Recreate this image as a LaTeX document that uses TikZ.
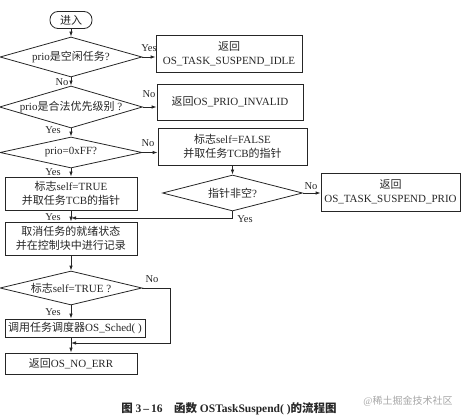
\documentclass[tikz,border=0pt]{standalone}
\usepackage{fontspec}
\setmainfont{Liberation Serif}
\newfontfamily\cjk{Noto Sans CJK SC}
\newcommand{\z}[1]{{\cjk #1}}
\usetikzlibrary{shapes.geometric,arrows.meta}
\begin{document}
\begin{tikzpicture}[x=1pt,y=-1pt,
  every node/.style={font=\fontsize{11}{14}\selectfont, text=black!85},
  line/.style={draw=black!85, line width=0.8pt},
  arr/.style={line, -{Latex[length=5pt,width=3.5pt]}},
  box/.style={line, rectangle, inner sep=0pt, align=center},
  dia/.style={line, diamond, inner sep=0pt, aspect=3.5},
  lab/.style={inner sep=0pt, font=\fontsize{10.5}{12}\selectfont}]
\useasboundingbox (0,0) rectangle (464,417);
% nodes
\node[box, rounded corners=8pt, minimum width=42pt, minimum height=17pt] (start) at (71,20) {\z{进入}};
\node[dia, minimum width=142pt, minimum height=40pt] (d1) at (71,57) {prio\z{是空闲任务}?};
\node[box, minimum width=146pt, minimum height=37pt] (b1) at (229,53.5) {\z{返回}\\OS\_TASK\_SUSPEND\_IDLE};
\node[dia, minimum width=142pt, minimum height=42pt] (d2) at (71,107) {prio\z{是合法优先级别} ?};
\node[box, minimum width=146pt, minimum height=36pt] (b2) at (230,102) {\z{返回}OS\_PRIO\_INVALID};
\node[dia, minimum width=142pt, minimum height=31pt] (d3) at (71,152.5) {prio=0xFF?};
\node[box, minimum width=149pt, minimum height=37pt] (b3) at (232.5,146.5) {\z{标志}self=FALSE\\\z{并取任务}TCB\z{的指针}};
\node[box, minimum width=132pt, minimum height=33pt] (b4) at (71,193.5) {\z{标志}self=TRUE\\\z{并取任务}TCB\z{的指针}};
\node[dia, minimum width=140pt, minimum height=36pt] (d4) at (232.5,193) {\z{指针非空}?};
\node[box, minimum width=139pt, minimum height=38pt] (b5) at (390.5,192) {\z{返回}\\OS\_TASK\_SUSPEND\_PRIO};
\node[box, minimum width=132pt, minimum height=33pt] (b6) at (71,238.5) {\z{取消任务的就绪状态}\\\z{并在控制块中进行记录}};
\node[dia, minimum width=142pt, minimum height=34pt] (d5) at (71,288) {\z{标志}self=TRUE ?};
\node[box, minimum width=140pt, minimum height=18pt] (b7) at (75,328) {\z{调用任务调度器}OS\_Sched( )};
\node[box, minimum width=132pt, minimum height=21pt] (b8) at (71,363.5) {\z{返回}OS\_NO\_ERR};
\coordinate (m1) at (71,218);
\coordinate (m2) at (71,343);
\coordinate (c1) at (170,288);
\coordinate (c2) at (170,343);
% connectors
\draw[arr] (start) -- (d1);
\draw[arr] (d1.east) -- (d1.east -| b1.west);
\draw[arr] (d1) -- (d2);
\draw[arr] (d2.east) -- (d2.east -| b2.west);
\draw[arr] (d2) -- (d3);
\draw[arr] (d3.east) -- (d3.east -| b3.west);
\draw[arr] (d3) -- (b4);
\draw[arr] (b3.south) -- (b3.south |- d4.north);
\draw[arr] (d4.east) -- (d4.east -| b5.west);
\draw[arr] (d4.south) |- (m1);
\draw[arr] (b4) -- (b6);
\draw[arr] (b6) -- (d5);
\draw[arr] (d5.east) -- (c1) -- (c2) -- (m2);
\draw[arr] (d5.south) -- (d5.south |- b7.north);
\draw[arr] (b8.north |- b7.south) -- (b8.north);
% labels
\node[lab] (l1) at (149,48) {Yes};
\node[lab] (l2) at (62,82) {No};
\node[lab] (l3) at (149,94) {No};
\node[lab] (l4) at (53,130) {Yes};
\node[lab] (l5) at (148,143) {No};
\node[lab] (l6) at (53,172) {Yes};
\node[lab] (l7) at (311,186) {No};
\node[lab] (l8) at (245,219) {Yes};
\node[lab] (l9) at (53,217) {Yes};
\node[lab] (l10) at (152,279) {No};
\node[lab] (l11) at (53,312) {Yes};
% caption
\node[inner sep=0pt, font=\fontsize{11.5}{13}\selectfont\bfseries] (cap) at (229,409) {\z{图} 3\,--\,16\quad\z{函数} OSTaskSuspend( )\z{的流程图}};
\node[inner sep=0pt, text=black!35, font=\fontsize{10}{11}\selectfont] (wm) at (408,401) {@\z{稀土掘金技术社区}};
\end{tikzpicture}
\end{document}
